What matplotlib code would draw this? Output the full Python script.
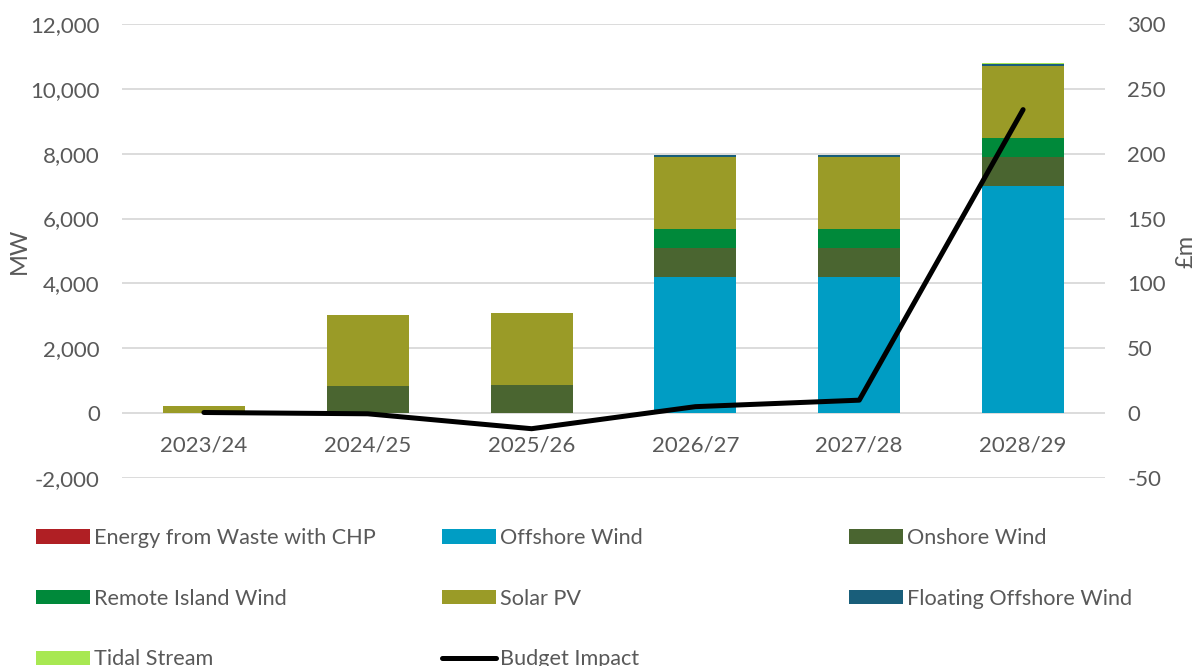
import matplotlib
matplotlib.use("Agg")
import matplotlib.pyplot as plt
import numpy as np
from matplotlib.patches import Patch
from matplotlib.lines import Line2D
from matplotlib.ticker import FuncFormatter

years = ["2023/24", "2024/25", "2025/26", "2026/27", "2027/28", "2028/29"]
efw = [0, 0, 0, 0, 0, 0]
offshore = [0, 0, 0, 4200, 4200, 7000]
onshore = [0, 830, 865, 890, 890, 900]
remote = [0, 0, 0, 590, 590, 590]
solar = [230, 2200, 2220, 2220, 2220, 2220]
floating = [0, 0, 0, 50, 50, 45]
tidal = [0, 0, 0, 10, 10, 40]
budget = [0.5, -0.5, -12, 5, 10, 234]

series = [
    ("Energy from Waste with CHP", efw, "#B01F24"),
    ("Offshore Wind", offshore, "#009DC4"),
    ("Onshore Wind", onshore, "#4A6530"),
    ("Remote Island Wind", remote, "#00893A"),
    ("Solar PV", solar, "#9A9B27"),
    ("Floating Offshore Wind", floating, "#195E7A"),
    ("Tidal Stream", tidal, "#A8E852"),
]

plt.rcParams['font.family'] = ['Lato', 'DejaVu Sans']
plt.rcParams['axes.unicode_minus'] = False
TXT = "#595959"
FS = 16
LFS = 15.6

fig = plt.figure(figsize=(11.99, 6.66), dpi=100)
ax = fig.add_axes([122/1199, 1-478/666, (1105-122)/1199, (478-24)/666])
x = np.arange(len(years))
bottom = np.zeros(len(years))
handles = {}
for name, vals, col in series:
    v = np.array(vals, dtype=float)
    ax.bar(x, v, 0.5, bottom=bottom, color=col, zorder=2)
    bottom += v
    handles[name] = Patch(facecolor=col, edgecolor='none')

ax.set_xlim(-0.5, len(years) - 0.5)
ax.set_ylim(-2000, 12000)
ax.set_yticks(np.arange(-2000, 12001, 2000))
ax.yaxis.set_major_formatter(FuncFormatter(lambda v, p: f"{int(v):,}"))
ax.grid(axis='y', color='#D9D9D9', lw=1.3, zorder=0)
ax.set_axisbelow(True)
for s in ax.spines.values():
    s.set_visible(False)
ax.spines['bottom'].set_position(('data', 0))
ax.set_xticks(x)
ax.set_xticklabels(years)
ax.tick_params(axis='x', length=0, pad=16, labelsize=FS, labelcolor=TXT)
ax.tick_params(axis='y', length=0, pad=16, labelsize=FS, labelcolor=TXT)
ax.set_ylabel("MW", fontsize=FS + 1, color=TXT)
ax.yaxis.set_label_coords(-92/983, 0.5)

ax2 = ax.twinx()
ax2.plot(x, budget, color='black', lw=3.6, solid_capstyle='round', zorder=5)
ax2.set_ylim(-50, 300)
ax2.set_yticks(np.arange(-50, 301, 50))
for s in ax2.spines.values():
    s.set_visible(False)
ax2.tick_params(axis='y', length=0, pad=16, labelsize=FS, labelcolor=TXT)
ax2.set_ylabel("£m", fontsize=FS + 1, color=TXT)
ax2.yaxis.set_label_coords((1175 - 122) / 983, 0.5)
handles["Budget Impact"] = Line2D([0], [0], color='black', lw=3.6, solid_capstyle='round')

cols = [
    (["Energy from Waste with CHP", "Remote Island Wind", "Tidal Stream"], 36),
    (["Offshore Wind", "Solar PV", "Budget Impact"], 442),
    (["Onshore Wind", "Floating Offshore Wind"], 849),
]
for names, xpix in cols:
    leg = fig.legend([handles[n] for n in names], names, loc='upper left',
                     bbox_to_anchor=(xpix / 1199, 1 - 528 / 666),
                     frameon=False, fontsize=LFS, handlelength=2.5, handleheight=0.65,
                     handletextpad=0.18, labelspacing=1.88, borderaxespad=0, borderpad=0)
    for t in leg.get_texts():
        t.set_color(TXT)

fig.savefig("out.png", dpi=100)
